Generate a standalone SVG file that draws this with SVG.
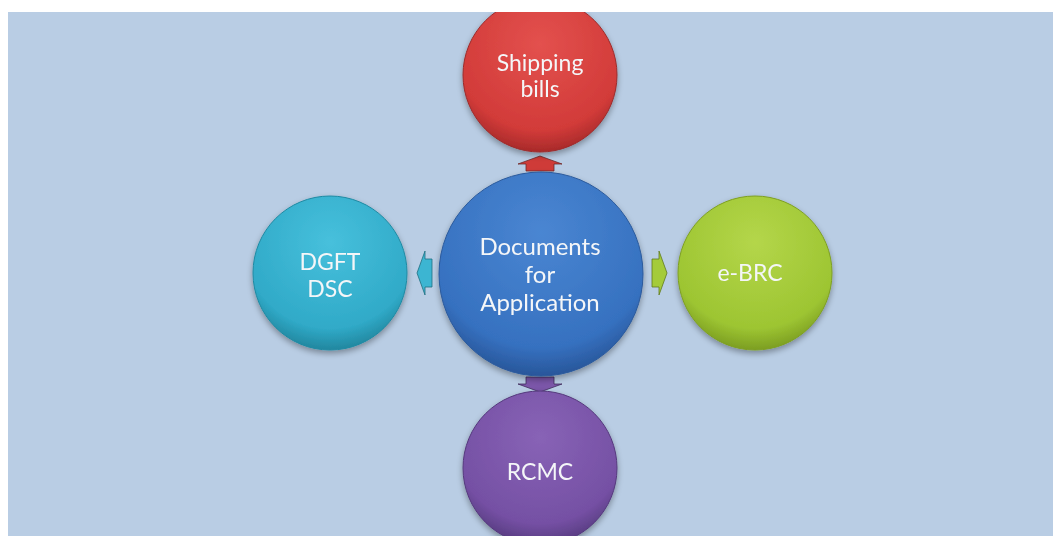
<svg xmlns="http://www.w3.org/2000/svg" width="1053" height="536" viewBox="0 0 1053 536">
<defs>
<style>
.lbl{font-family:Lato,"Open Sans","Liberation Sans",sans-serif;font-size:23px;fill:#f4f6f8;text-anchor:middle}
.big{font-size:24px}
.arr{stroke-width:0.8}
</style>
<clipPath id="bgclip"><rect x="8" y="12" width="1045" height="524"/></clipPath>
<filter id="sh" x="-20%" y="-20%" width="140%" height="140%"><feGaussianBlur in="SourceAlpha" stdDeviation="3"/><feOffset dy="3"/><feComponentTransfer><feFuncA type="linear" slope="0.35"/></feComponentTransfer><feMerge><feMergeNode/><feMergeNode in="SourceGraphic"/></feMerge></filter>
<radialGradient id="gRed" cx="0.5" cy="0.3" r="0.7"><stop offset="0" stop-color="#e3514e"/><stop offset="0.8" stop-color="#d23b39"/><stop offset="1" stop-color="#a82a2a"/></radialGradient>
<radialGradient id="gBlue" cx="0.5" cy="0.3" r="0.7"><stop offset="0" stop-color="#4a86d2"/><stop offset="0.8" stop-color="#3671c0"/><stop offset="1" stop-color="#28569a"/></radialGradient>
<radialGradient id="gCyan" cx="0.5" cy="0.3" r="0.7"><stop offset="0" stop-color="#47c0dc"/><stop offset="0.8" stop-color="#30aac8"/><stop offset="1" stop-color="#22879f"/></radialGradient>
<radialGradient id="gGreen" cx="0.5" cy="0.3" r="0.7"><stop offset="0" stop-color="#b4d64a"/><stop offset="0.8" stop-color="#9dc532"/><stop offset="1" stop-color="#7c9e22"/></radialGradient>
<radialGradient id="gPurple" cx="0.5" cy="0.3" r="0.7"><stop offset="0" stop-color="#8863b6"/><stop offset="0.8" stop-color="#7550a4"/><stop offset="1" stop-color="#573b80"/></radialGradient>
<path id="arrowUp" d="M-14,8 L-14,1 L-22,1 L0,-7 L22,1 L14,1 L14,8 Z"/>
</defs>
<rect x="8" y="12" width="1045" height="524" fill="#b9cde4"/>
<g clip-path="url(#bgclip)">
<g id="connectors">
<use href="#arrowUp" class="arr" transform="translate(540,163)" fill="#cf3b38" stroke="#6e2a2a"/>
<use href="#arrowUp" class="arr" transform="translate(424,273) rotate(-90)" fill="#3cb5d2" stroke="#1f6f80"/>
<use href="#arrowUp" class="arr" transform="translate(660,273) rotate(90)" fill="#a4cb3a" stroke="#5f7a1c"/>
<use href="#arrowUp" class="arr" transform="translate(540,385) rotate(180)" fill="#7b56a9" stroke="#3f2c5c"/>
</g>
<g id="node-shipping" filter="url(#sh)">
<circle cx="540" cy="75" r="77" fill="url(#gRed)" stroke="#9c2b2b" stroke-width="1"/>
<text class="lbl" x="540" y="71">Shipping</text>
<text class="lbl" x="540" y="97">bills</text>
</g>
<g id="node-docs" filter="url(#sh)">
<circle cx="541" cy="274" r="102" fill="url(#gBlue)" stroke="#2b5a9c" stroke-width="1"/>
<text class="lbl big" x="540" y="255">Documents</text>
<text class="lbl big" x="540" y="283">for</text>
<text class="lbl big" x="540" y="311">Application</text>
</g>
<g id="node-dgft" filter="url(#sh)">
<circle cx="330" cy="273" r="77" fill="url(#gCyan)" stroke="#1f8aa3" stroke-width="1"/>
<text class="lbl" x="330" y="270">DGFT</text>
<text class="lbl" x="330" y="297">DSC</text>
</g>
<g id="node-ebrc" filter="url(#sh)">
<circle cx="755" cy="273" r="77" fill="url(#gGreen)" stroke="#7e9f22" stroke-width="1"/>
<text class="lbl" x="750" y="281">e-BRC</text>
</g>
<g id="node-rcmc" filter="url(#sh)">
<circle cx="540" cy="468" r="77" fill="url(#gPurple)" stroke="#55397d" stroke-width="1"/>
<text class="lbl" x="540" y="480">RCMC</text>
</g>
</g>
</svg>
